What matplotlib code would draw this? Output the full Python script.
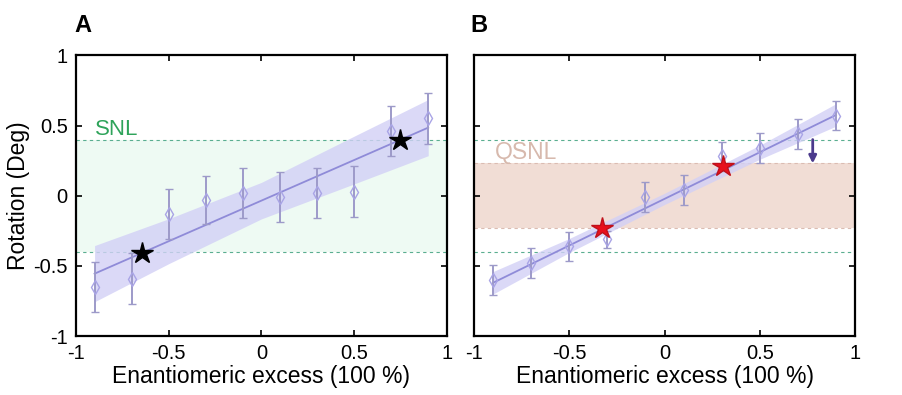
import numpy as np
import matplotlib.pyplot as plt

plt.rcParams['font.family'] = ['Liberation Sans', 'DejaVu Sans']

# datos
ee = [-0.9, -0.7, -0.5, -0.3, -0.1, 0.1, 0.3, 0.5, 0.7, 0.9]
rot_a = [-0.65, -0.59, -0.13, -0.03, 0.02, -0.01, 0.02, 0.03, 0.46, 0.55]
err_a = [0.18, 0.18, 0.18, 0.17, 0.18, 0.18, 0.18, 0.18, 0.18, 0.18]
rot_b = [-0.60, -0.48, -0.36, -0.31, -0.01, 0.04, 0.28, 0.34, 0.44, 0.57]
err_b = [0.105, 0.105, 0.105, 0.06, 0.105, 0.105, 0.105, 0.105, 0.105, 0.105]

# ajuste lineal y banda de confianza
fit_x = [-0.9, 0.9]
fit_a = [-0.555, 0.485]
fit_b = [-0.62, 0.575]
band_x = [-0.9, -0.5, 0.0, 0.5, 0.9]
band_a = [0.20, 0.16, 0.13, 0.17, 0.20]
band_b = [0.08, 0.05, 0.04, 0.05, 0.08]

snl = 0.4
qsnl = 0.233
stars_a = ([-0.645, 0.748], [-0.405, 0.40])
stars_b = ([-0.326, 0.308], [-0.23, 0.215])
arrow_x = 0.778
arrow_y = (0.40, 0.23)

c_line = '#8f8bd8'
c_err = '#9d9ac9'
c_band = '#d2d0f6'
c_green = '#5aae90'

fig = plt.figure(figsize=(9.02, 3.95), dpi=100)
ax1 = fig.add_axes([0.0843, 0.149, 0.411, 0.711])
ax2 = fig.add_axes([0.5255, 0.149, 0.4224, 0.711])


def panel(ax, rot, err, fit, band):
    fx = np.array(band_x)
    fy = np.interp(fx, fit_x, fit)
    ax.fill_between(fx, fy - np.array(band), fy + np.array(band),
                    color=c_band, alpha=0.8, lw=0, zorder=2)
    ax.plot(fit_x, fit, color=c_line, lw=1.3, zorder=3)
    ax.errorbar(ee, rot, yerr=err, fmt='d', ms=7, mfc='none', mec='#a9a4e6',
                mew=1.0, ecolor=c_err, elinewidth=1.4, capsize=3, capthick=1.2,
                zorder=4)
    ax.axhline(snl, color=c_green, ls=(0, (3, 3)), lw=0.8, zorder=1)
    ax.axhline(-snl, color=c_green, ls=(0, (3, 3)), lw=0.8, zorder=1)
    ax.set_xlim(-1, 1)
    ax.set_ylim(-1, 1)
    ax.set_xticks([-1, -0.5, 0, 0.5, 1])
    ax.set_xticklabels(['-1', '-0.5', '0', '0.5', '1'])
    ax.set_yticks([-1, -0.5, 0, 0.5, 1])
    ax.tick_params(direction='in', top=True, right=True, length=4, width=1.2,
                   labelsize=14.5, pad=6)
    for s in ax.spines.values():
        s.set_linewidth(1.6)
    ax.set_xlabel('Enantiomeric excess (100 %)', fontsize=16.5, labelpad=1)


panel(ax1, rot_a, err_a, fit_a, band_a)
ax1.axhspan(-snl, snl, color='#eefaf3', lw=0, zorder=0)
ax1.plot(*stars_a, '*', color='black', ms=16, zorder=5)
ax1.text(-0.9, 0.47, 'SNL', color='#2ea35a', fontsize=16, va='center')
ax1.set_yticklabels(['-1', '-0.5', '0', '0.5', '1'])
ax1.set_ylabel('Rotation (Deg)', fontsize=16.5, labelpad=2)

panel(ax2, rot_b, err_b, fit_b, band_b)
ax2.axhspan(-qsnl, qsnl, color='#f1ddd5', lw=0, zorder=0)
ax2.axhline(qsnl, color='#dbbcb2', ls=(0, (3, 3)), lw=0.8, zorder=1)
ax2.axhline(-qsnl, color='#dbbcb2', ls=(0, (3, 3)), lw=0.8, zorder=1)
ax2.plot(*stars_b, '*', color='#e8101c', mec='#c0101a', ms=16, zorder=5)
ax2.annotate('', xy=(arrow_x, arrow_y[1]), xytext=(arrow_x, arrow_y[0]),
             arrowprops=dict(arrowstyle='-|>', color='#4b3a8c', lw=2.0,
                             mutation_scale=11, shrinkA=0, shrinkB=0),
             zorder=6)
ax2.text(-0.89, 0.31, 'QSNL', color='#d7b9ad', fontsize=16.5, va='center')
ax2.set_yticklabels([])

fig.text(0.082, 0.935, 'A', fontsize=17, fontweight='bold', va='center')
fig.text(0.522, 0.935, 'B', fontsize=17, fontweight='bold', va='center')

plt.savefig('out.png', dpi=100)
